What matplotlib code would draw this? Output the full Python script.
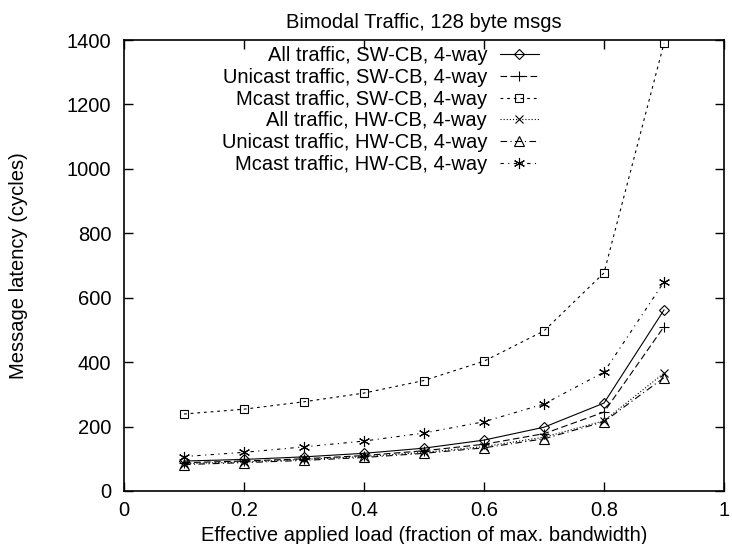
import matplotlib
matplotlib.use("Agg")
import matplotlib.pyplot as plt

plt.rcParams['font.family'] = ['Liberation Sans', 'DejaVu Sans']

loads = [0.1, 0.2, 0.3, 0.4, 0.5, 0.6, 0.7, 0.8, 0.9]
all_sw = [93, 98, 106, 117, 133, 158, 198, 273, 562]
uni_sw = [88, 93, 100, 110, 125, 145, 178, 245, 510]
mcast_sw = [239, 254, 277, 304, 343, 403, 497, 677, 1390]
all_hw = [85, 90, 98, 107, 120, 138, 167, 218, 366]
uni_hw = [82, 88, 95, 104, 117, 134, 162, 215, 352]
mcast_hw = [107, 120, 137, 155, 180, 215, 270, 369, 649]

labels = ["All traffic, SW-CB, 4-way", "Unicast traffic, SW-CB, 4-way",
          "Mcast traffic, SW-CB, 4-way", "All traffic, HW-CB, 4-way",
          "Unicast traffic, HW-CB, 4-way", "Mcast traffic, HW-CB, 4-way"]
xticks = [0, 0.2, 0.4, 0.6, 0.8, 1]
yticks = [0, 200, 400, 600, 800, 1000, 1200, 1400]

FS = 14.5
W, H = 732, 544
fig = plt.figure(figsize=(W / 100, H / 100), dpi=100)
L, R, T, B = 124, 724, 40, 491
ax = fig.add_axes([L / W, 1 - B / H, (R - L) / W, (B - T) / H])

styles = [
    dict(ls='-', marker='D', ms=5.2),
    dict(ls=(0, (6, 3)), marker='+', ms=7),
    dict(ls=(0, (2.5, 3.5)), marker='s', ms=6.3),
    dict(ls=(0, (1, 1.8)), marker='x', ms=6.3),
    dict(ls=(0, (6, 3, 1, 3)), marker='^', ms=7),
    dict(ls=(0, (3, 4, 1, 4)), marker=(6, 2, 0), ms=8),
]
series = [all_sw, uni_sw, mcast_sw, all_hw, uni_hw, mcast_hw]
for data, lab, st in zip(series, labels, styles):
    ax.plot(loads, data, color='black', lw=0.8, label=lab,
            marker=st['marker'], ms=st['ms'], ls=st['ls'],
            mfc='none', mec='black', mew=0.8)

ax.set_xlim(0, 1)
ax.set_ylim(0, 1400)
ax.set_xticks(xticks)
ax.set_xticklabels([f"{t:g}" for t in xticks])
ax.set_yticks(yticks)
ax.tick_params(direction='in', top=True, right=True, labelsize=FS, length=6.5, width=1)
ax.tick_params(axis='x', pad=7)
ax.tick_params(axis='y', pad=9)
for s in ax.spines.values():
    s.set_linewidth(1.2)

ax.set_xlabel("Effective applied load (fraction of max. bandwidth)", fontsize=FS)
ax.xaxis.label.set_va('baseline')
ax.xaxis.set_label_coords(0.5, (B - 541) / (B - T))
ax.set_ylabel("Message latency (cycles)", fontsize=FS)
ax.yaxis.label.set_va('center')
ax.yaxis.set_label_coords((18.5 - L) / (R - L), 0.5)
ax.set_title("Bimodal Traffic, 128 byte msgs", fontsize=FS, pad=9)

leg = ax.legend(loc='upper right', bbox_to_anchor=((539 - L) / (R - L), (B - 46) / (B - T)),
                frameon=False, markerfirst=False, fontsize=FS, handlelength=1.95,
                labelspacing=0.14, borderaxespad=0, borderpad=0, handletextpad=0.62)
vp = leg._legend_box.get_children()[1]
for col in vp.get_children():
    col.align = "right"
leg._legend_box.align = "right"

fig.savefig("out.png", dpi=100)
